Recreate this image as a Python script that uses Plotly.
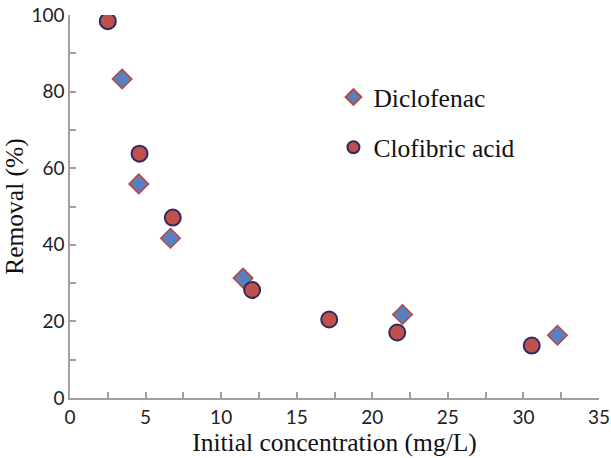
import plotly.graph_objects as go

# Data
diclofenac_x = [3.45, 4.55, 6.65, 11.45, 22.0, 32.25]
diclofenac_y = [83.3, 55.9, 41.7, 31.3, 21.8, 16.4]
clofibric_x = [2.5, 4.6, 6.8, 12.05, 17.15, 21.65, 30.55]
clofibric_y = [98.4, 63.8, 47.1, 28.2, 20.5, 17.1, 13.7]

x_ticks = [0, 5, 10, 15, 20, 25, 30, 35]
y_ticks = [0, 20, 40, 60, 80, 100]
x_minor = [2.5, 7.5, 12.5, 17.5, 22.5, 27.5, 32.5]
y_minor = [10, 30, 50, 70, 90]

axis_color = "#a69e97"
serif = "Liberation Serif, Times New Roman, serif"
sans = "Lato, Calibri, sans-serif"
title_size = 25.5

fig = go.Figure()
fig.add_trace(go.Scatter(
    x=diclofenac_x, y=diclofenac_y, mode="markers", name="Diclofenac",
    legendgroup="a",
    marker=dict(symbol="diamond", size=15, color="#5a7fbf",
                line=dict(color="#b8473d", width=1.5)),
))
fig.add_trace(go.Scatter(
    x=clofibric_x, y=clofibric_y, mode="markers", name="Clofibric acid",
    legendgroup="b",
    marker=dict(symbol="circle", size=16, color="#c0504d",
                line=dict(color="#2f2b5e", width=2)),
))

fig.update_layout(
    width=611, height=458,
    margin=dict(l=70, r=12, t=15, b=60, autoexpand=False),
    paper_bgcolor="white", plot_bgcolor="white",
    showlegend=True,
    legend=dict(x=0.498, y=0.846, xanchor="left", yanchor="top",
                font=dict(family=serif, size=title_size, color="#111"),
                tracegroupgap=14, itemsizing="constant",
                bgcolor="rgba(0,0,0,0)"),
    xaxis=dict(range=[0, 35], tickvals=x_ticks, showgrid=False, zeroline=False,
               automargin=False,
               showline=True, linecolor=axis_color, linewidth=1.5,
               ticks="inside", tickcolor=axis_color, ticklen=6, tickwidth=1.5,
               tickfont=dict(family=sans, size=19, color="#222"),
               ticklabelstandoff=1,
               minor=dict(tickvals=x_minor,
                          ticks="inside", ticklen=6, tickcolor=axis_color, tickwidth=1.5),
               title=dict(text="Initial concentration (mg/L)",
                          font=dict(family=serif, size=title_size, color="#111"), standoff=5)),
    yaxis=dict(range=[0, 100], tickvals=y_ticks, showgrid=False, zeroline=False,
               automargin=False,
               showline=True, linecolor=axis_color, linewidth=1.5,
               ticks="inside", tickcolor=axis_color, ticklen=6, tickwidth=1.5,
               tickfont=dict(family=sans, size=19, color="#222"),
               ticklabelstandoff=0,
               minor=dict(tickvals=y_minor,
                          ticks="inside", ticklen=6, tickcolor=axis_color, tickwidth=1.5),
               title=dict(text="Removal (%)",
                          font=dict(family=serif, size=title_size, color="#111"), standoff=0)),
)

fig.write_html("out.html")
